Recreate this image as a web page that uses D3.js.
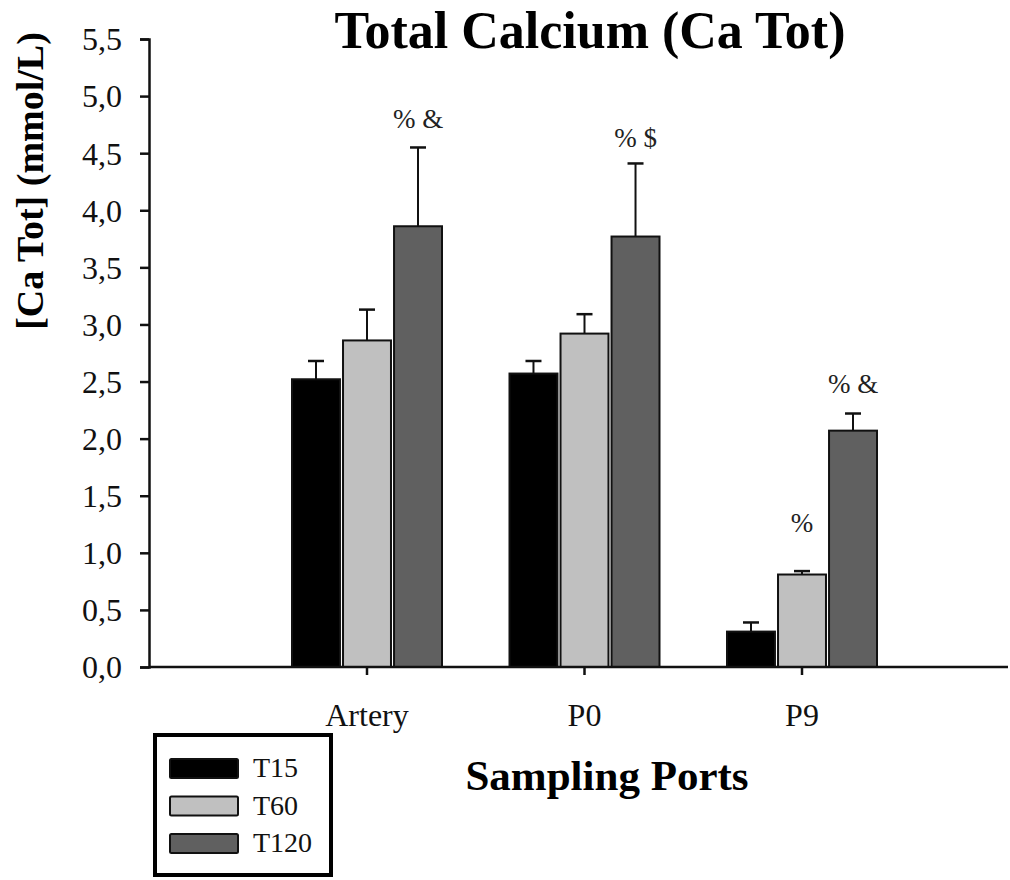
<!DOCTYPE html>
<html>
<head>
<meta charset="utf-8">
<script src="https://cdn.jsdelivr.net/npm/d3@7"></script>
<style>
  html, body { margin: 0; padding: 0; background: #fff; }
  svg { display: block; font-family: "Liberation Serif", "Times New Roman", serif; }
</style>
</head>
<body>
<svg id="chart" width="1010" height="880"></svg>
<script>
// ---- data ----
const categories = ["Artery", "P0", "P9"];
const series = ["T15", "T60", "T120"];
const meanT15 = [2.52, 2.57, 0.31];
const meanT60 = [2.86, 2.92, 0.81];
const meanT120 = [3.86, 3.77, 2.07];
const errT15 = [0.16, 0.11, 0.08];
const errT60 = [0.27, 0.17, 0.03];
const errT120 = [0.69, 0.64, 0.15];
const yTicks = [0, 0.5, 1.0, 1.5, 2.0, 2.5, 3.0, 3.5, 4.0, 4.5, 5.0, 5.5];
// significance annotations: category, series, label, label level (data units)
const annotCategory = ["Artery", "P0", "P9", "P9"];
const annotSeries = ["T120", "T120", "T60", "T120"];
const annotText = ["% &", "% $", "%", "% &"];
const annotLevel = [4.72, 4.55, 1.18, 2.40];

const colors = { T15: "#000000", T60: "#c0c0c0", T120: "#606060" };

const means = { T15: meanT15, T60: meanT60, T120: meanT120 };
const errs = { T15: errT15, T60: errT60, T120: errT120 };
const rows = [];
categories.forEach((c, i) => series.forEach(s => rows.push({ cat: c, s, v: means[s][i], e: errs[s][i] })));

// ---- layout ----
const svg = d3.select("#chart");
const axisX0 = 149, axisXEnd = 1008;
const y = d3.scaleLinear().domain([0, 5.5]).range([667, 39]);
const x = d3.scaleBand().domain(categories).range([258.25, 910.75]).padding(0);
const inner = d3.scaleBand().domain(series).range([-75, 75]).paddingInner(0.06);

// bars
const g = svg.append("g");
g.selectAll("rect.bar").data(rows).join("rect")
  .attr("class", "bar")
  .attr("x", d => x(d.cat) + x.bandwidth() / 2 + inner(d.s))
  .attr("width", inner.bandwidth())
  .attr("y", d => y(d.v))
  .attr("height", d => y(0) - y(d.v))
  .attr("fill", d => colors[d.s])
  .attr("stroke", "#111")
  .attr("stroke-width", 2);

// error bars
const cx = d => x(d.cat) + x.bandwidth() / 2 + inner(d.s) + inner.bandwidth() / 2;
g.selectAll("line.err").data(rows).join("line")
  .attr("x1", cx).attr("x2", cx)
  .attr("y1", d => y(d.v)).attr("y2", d => y(d.v + d.e))
  .attr("stroke", "#111").attr("stroke-width", 2);
g.selectAll("line.cap").data(rows).join("line")
  .attr("x1", d => cx(d) - 8).attr("x2", d => cx(d) + 8)
  .attr("y1", d => y(d.v + d.e)).attr("y2", d => y(d.v + d.e))
  .attr("stroke", "#111").attr("stroke-width", 2.5);

// annotations
const annots = annotText.map((t, i) => ({ cat: annotCategory[i], s: annotSeries[i], t, lv: annotLevel[i] }));
svg.selectAll("text.annot").data(annots).join("text")
  .attr("class", "annot")
  .attr("x", d => cx(d))
  .attr("y", d => y(d.lv))
  .attr("text-anchor", "middle")
  .attr("font-size", 27)
  .attr("fill", "#222")
  .text(d => d.t);

// y axis
const yAxis = d3.axisLeft(y).tickValues(yTicks).tickSize(9).tickPadding(18)
  .tickFormat(d => d3.format(".1f")(d).replace(".", ","));
const ya = svg.append("g").attr("transform", `translate(${axisX0},0)`).call(yAxis);
ya.select(".domain").attr("stroke", "#111").attr("stroke-width", 2.5);
ya.selectAll(".tick line").attr("stroke", "#111").attr("stroke-width", 2.5);
ya.selectAll(".tick text").attr("font-size", 32).attr("font-family", "Liberation Serif").attr("fill", "#111").attr("dy", "0.34em");

// x axis
const xAxis = d3.axisBottom(x).tickSize(8).tickPadding(28).tickSizeOuter(0);
const xa = svg.append("g").attr("transform", `translate(0,${y(0)})`).call(xAxis);
xa.select(".domain").remove();
xa.selectAll(".tick line").attr("stroke", "#111").attr("stroke-width", 2.5);
xa.selectAll(".tick text").attr("font-size", 32).attr("font-family", "Liberation Serif").attr("fill", "#111");
svg.append("line").attr("x1", axisX0).attr("x2", axisXEnd).attr("y1", y(0)).attr("y2", y(0))
  .attr("stroke", "#111").attr("stroke-width", 2.5);

// title and axis labels
svg.append("text").attr("x", 590).attr("y", 48).attr("text-anchor", "middle")
  .attr("font-size", 52).attr("font-weight", "bold").attr("fill", "#000").text("Total Calcium (Ca Tot)");
svg.append("text").attr("x", 607).attr("y", 790).attr("text-anchor", "middle")
  .attr("font-size", 43).attr("font-weight", "bold").attr("fill", "#000").text("Sampling Ports");
svg.append("text").attr("transform", "translate(43,181) rotate(-90)").attr("text-anchor", "middle")
  .attr("font-size", 38).attr("font-weight", "bold").attr("fill", "#000").text("[Ca Tot] (mmol/L)");

// legend
const lg = svg.append("g");
lg.append("rect").attr("x", 155).attr("y", 735).attr("width", 176).attr("height", 140)
  .attr("fill", "#fff").attr("stroke", "#000").attr("stroke-width", 4);
const ly = d3.scalePoint().domain(series).range([768, 843]);
lg.selectAll("rect.sw").data(series).join("rect")
  .attr("x", 170).attr("y", d => ly(d) - 9).attr("width", 68).attr("height", 19)
  .attr("fill", d => colors[d]).attr("stroke", "#111").attr("stroke-width", 2).attr("rx", 1.5);
lg.selectAll("text.lt").data(series).join("text")
  .attr("x", 253).attr("y", d => ly(d) + 9)
  .attr("font-size", 28).attr("fill", "#111").text(d => d);
</script>
</body>
</html>
